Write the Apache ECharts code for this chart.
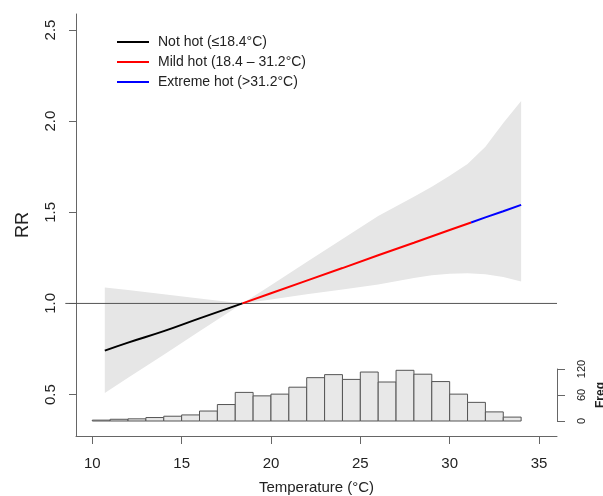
<!DOCTYPE html>
<html>
<head>
<meta charset="utf-8">
<script src="https://cdn.jsdelivr.net/npm/echarts@6/dist/echarts.min.js"></script>
<style>
  html, body { margin: 0; padding: 0; background: #fff; }
  #chart { width: 603px; height: 496px; }
</style>
</head>
<body>
<div id="chart"></div>
<script>
  // 曲线数据 (temperature -> RR)
  var notHotT = [10.7, 12, 14, 16, 18.4];
  var notHotRR = [0.741, 0.785, 0.848, 0.918, 1.0];
  var mildT = [18.4, 20, 22, 24, 26, 28, 30, 31.2];
  var mildRR = [1.0, 1.056, 1.125, 1.194, 1.264, 1.333, 1.403, 1.444];
  var extremeT = [31.2, 32, 33, 34];
  var extremeRR = [1.444, 1.472, 1.506, 1.541];

  // 置信区间
  var bandT = [10.7, 12, 14, 16, 18.4, 20, 22, 24, 26, 28, 29, 30, 31, 32, 33, 34];
  var bandUpper = [1.088, 1.074, 1.050, 1.027, 1.0, 1.10, 1.227, 1.353, 1.479, 1.585, 1.64, 1.70, 1.765, 1.86, 1.99, 2.11];
  var bandLower = [0.509, 0.592, 0.719, 0.847, 1.0, 1.022, 1.05, 1.077, 1.104, 1.14, 1.155, 1.163, 1.165, 1.16, 1.145, 1.12];

  // 直方图 (bin start, width 1)
  var binStart = [10, 11, 12, 13, 14, 15, 16, 17, 18, 19, 20, 21, 22, 23, 24, 25, 26, 27, 28, 29, 30, 31, 32, 33];
  var binCount = [2, 4, 5, 8, 11, 14, 23, 38, 66, 58, 62, 78, 100, 107, 96, 113, 90, 117, 108, 91, 62, 43, 21, 9];

  var xTicks = [10, 15, 20, 25, 30, 35];
  var yTicks = [0.5, 1.0, 1.5, 2.0, 2.5];
  var refRR = 1.0;

  var seriesNames = ['Not hot (≤18.4°C)', 'Mild hot (18.4 – 31.2°C)', 'Extreme hot (>31.2°C)'];

  function pairs(xs, ys) {
    return xs.map(function (x, i) { return [x, ys[i]]; });
  }

  var font = '"Liberation Sans", Arial, sans-serif';
  var xMin = 9.088, xMax = 36.007;

  var chart = echarts.init(document.getElementById('chart'));
  chart.setOption({
    animation: false,
    textStyle: { fontFamily: font },
    grid: [
      { left: 76, right: 46, top: 14, bottom: 60, outerBoundsMode: 'none' },
      { left: 76, right: 46, top: 369, bottom: 75, outerBoundsMode: 'none' }
    ],
    legend: {
      data: seriesNames,
      orient: 'vertical',
      left: 112,
      top: 30,
      icon: 'rect',
      itemWidth: 32,
      itemHeight: 2,
      itemGap: 6,
      textStyle: { fontSize: 14, color: '#222', lineHeight: 14, padding: [0, 0, 0, 4] }
    },
    xAxis: [
      {
        type: 'value', gridIndex: 0, min: xMin, max: xMax,
        axisLine: { show: true, lineStyle: { color: '#666' } },
        axisTick: { show: true, length: 8, customValues: xTicks, lineStyle: { color: '#666' } },
        axisLabel: { customValues: xTicks, margin: 20, fontSize: 15, color: '#222' },
        splitLine: { show: false },
        name: 'Temperature (°C)', nameLocation: 'middle', nameGap: 44,
        nameTextStyle: { fontSize: 15, color: '#222' }
      },
      { type: 'value', gridIndex: 1, min: xMin, max: xMax, show: false }
    ],
    yAxis: [
      {
        type: 'value', gridIndex: 0, min: 0.2726, max: 2.588,
        axisLine: { show: true, lineStyle: { color: '#666' } },
        axisTick: { show: true, length: 7, customValues: yTicks, lineStyle: { color: '#666' } },
        axisLabel: {
          customValues: yTicks, rotate: 90, margin: 18, fontSize: 15, color: '#222',
          formatter: function (v) { return v.toFixed(1); }
        },
        splitLine: { show: false },
        name: 'RR', nameLocation: 'middle', nameRotate: 90, nameGap: 44,
        nameTextStyle: { fontSize: 18, color: '#222' }
      },
      {
        type: 'value', gridIndex: 1, position: 'right', min: 0, max: 120, interval: 60,
        axisLine: { show: true, lineStyle: { color: '#666' } },
        axisTick: { show: true, length: 8, lineStyle: { color: '#666' } },
        axisLabel: { rotate: 90, margin: 19, fontSize: 11, color: '#222' },
        splitLine: { show: false },
        name: 'Freq', nameLocation: 'middle', nameRotate: 90, nameGap: 34,
        nameTextStyle: { fontSize: 12, fontWeight: 'bold', color: '#222' }
      }
    ],
    series: [
      {
        type: 'custom', xAxisIndex: 0, yAxisIndex: 0, z: 1, silent: true,
        data: [0],
        renderItem: function (params, api) {
          var pts = [];
          for (var i = 0; i < bandT.length; i++) pts.push(api.coord([bandT[i], bandUpper[i]]));
          for (var j = bandT.length - 1; j >= 0; j--) pts.push(api.coord([bandT[j], bandLower[j]]));
          return { type: 'polygon', shape: { points: pts }, style: { fill: '#e6e6e6' } };
        }
      },
      {
        // RR = 1 参考线
        type: 'custom', xAxisIndex: 0, yAxisIndex: 0, z: 2, silent: true, clip: false,
        data: [0],
        renderItem: function (params, api) {
          var a = api.coord([8.49, refRR]);
          var b = api.coord([xMax, refRR]);
          return {
            type: 'line',
            shape: { x1: a[0], y1: a[1], x2: b[0], y2: b[1] },
            style: { stroke: '#555', lineWidth: 1 }
          };
        }
      },
      {
        type: 'custom', xAxisIndex: 1, yAxisIndex: 1, z: 2, silent: true,
        data: binStart.map(function (s, i) { return [s, s + 1, binCount[i]]; }),
        renderItem: function (params, api) {
          var p0 = api.coord([api.value(0), 0]);
          var p1 = api.coord([api.value(1), api.value(2)]);
          return {
            type: 'rect',
            shape: { x: p0[0], y: p1[1], width: p1[0] - p0[0], height: p0[1] - p1[1] },
            style: { fill: '#e8e8e8', stroke: '#555', lineWidth: 1 }
          };
        }
      },
      {
        name: seriesNames[0], type: 'line', z: 3, symbol: 'none', smooth: true,
        data: pairs(notHotT, notHotRR), itemStyle: { color: '#000' },
        lineStyle: { color: '#000', width: 2 }
      },
      {
        name: seriesNames[1], type: 'line', z: 3, symbol: 'none',
        data: pairs(mildT, mildRR), itemStyle: { color: '#ff0000' },
        lineStyle: { color: '#ff0000', width: 2 }
      },
      {
        name: seriesNames[2], type: 'line', z: 3, symbol: 'none',
        data: pairs(extremeT, extremeRR), itemStyle: { color: '#0000ff' },
        lineStyle: { color: '#0000ff', width: 2 }
      }
    ]
  });
</script>
</body>
</html>
